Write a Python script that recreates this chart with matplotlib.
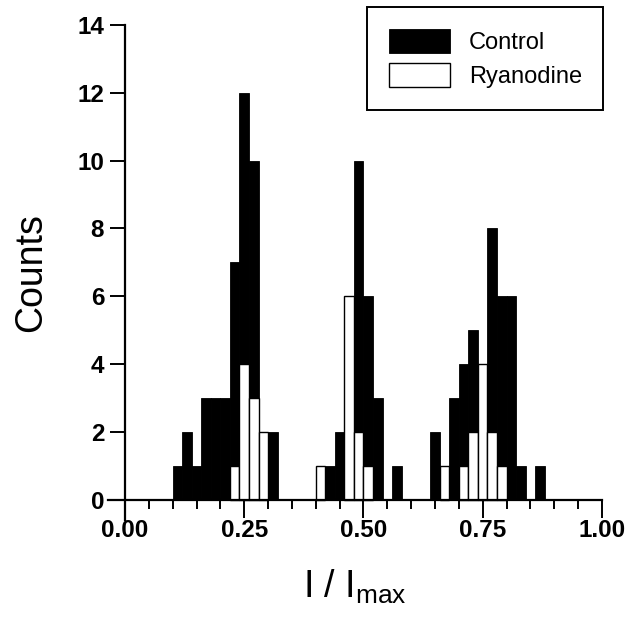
import numpy as np
import matplotlib
matplotlib.use('Agg')
import matplotlib.pyplot as plt
from matplotlib.ticker import MultipleLocator

plt.rcParams['font.family'] = ['Liberation Sans', 'DejaVu Sans']
plt.rcParams['mathtext.fontset'] = 'custom'
plt.rcParams['mathtext.rm'] = 'Liberation Sans'

# histogram bins (left edges, width 0.02)
control_edges = [0.10, 0.12, 0.14, 0.16, 0.18, 0.20, 0.22, 0.24, 0.26, 0.30,
                 0.42, 0.44, 0.48, 0.50, 0.52, 0.56,
                 0.64, 0.68, 0.70, 0.72, 0.76, 0.78, 0.80, 0.82, 0.86]
control_counts = [1, 2, 1, 3, 3, 3, 7, 12, 10, 2,
                  1, 2, 10, 6, 3, 1,
                  2, 3, 4, 5, 8, 6, 6, 1, 1]

ryan_edges = [0.22, 0.24, 0.26, 0.28, 0.40, 0.46, 0.48, 0.50,
              0.66, 0.70, 0.72, 0.74, 0.76, 0.78]
ryan_counts = [1, 4, 3, 2, 1, 6, 2, 1,
               1, 1, 2, 4, 2, 1]

bin_width = 0.02

fig = plt.figure(figsize=(6.27, 6.2), dpi=100)
ax = fig.add_axes([0.172, 0.161, 0.788, 0.799])

ax.bar(control_edges, control_counts, width=bin_width, align='edge',
       color='black', edgecolor='black', linewidth=0.6, label='Control', zorder=2)
ax.bar(ryan_edges, ryan_counts, width=bin_width, align='edge',
       color='white', edgecolor='black', linewidth=1.0, label='Ryanodine', zorder=3)

ax.set_xlim(-0.036, 1.0)
ax.set_ylim(-0.6, 14)
ax.spines['bottom'].set_position(('data', 0))
ax.spines['left'].set_position(('data', 0))
ax.spines['top'].set_visible(False)
ax.spines['right'].set_visible(False)
for s in ['bottom', 'left']:
    ax.spines[s].set_linewidth(1.6)
    ax.spines[s].set_zorder(4)

ax.xaxis.set_major_locator(MultipleLocator(0.25))
ax.xaxis.set_minor_locator(MultipleLocator(0.05))
ax.yaxis.set_major_locator(MultipleLocator(2))
ax.set_xticks([0, 0.25, 0.5, 0.75, 1.0])
ax.set_xticklabels(['0.00', '0.25', '0.50', '0.75', '1.00'])
ax.tick_params(axis='x', which='major', direction='out', length=13, width=1.4,
               labelsize=17.5, pad=1)
ax.tick_params(axis='x', which='minor', direction='out', length=6.5, width=1.4)
ax.tick_params(axis='y', which='major', direction='out', length=11, width=1.4,
               labelsize=17.5, pad=4)
for lab in ax.get_xticklabels() + ax.get_yticklabels():
    lab.set_fontweight('bold')

ax.set_xlabel(r'I / I$_{\mathrm{max}}$', fontsize=27, labelpad=18)
ax.set_ylabel('Counts', fontsize=27, labelpad=20)

leg = ax.legend(loc='upper right', bbox_to_anchor=(0.962, 0.988),
                bbox_transform=fig.transFigure, fontsize=17,
                fancybox=False, frameon=True, handlelength=2.6, handleheight=1.2,
                borderpad=0.9, labelspacing=0.4, handletextpad=0.8,
                borderaxespad=0)
leg.get_frame().set_edgecolor('black')
leg.get_frame().set_linewidth(1.4)
leg.get_frame().set_alpha(1)

fig.savefig('out.png', dpi=100)
